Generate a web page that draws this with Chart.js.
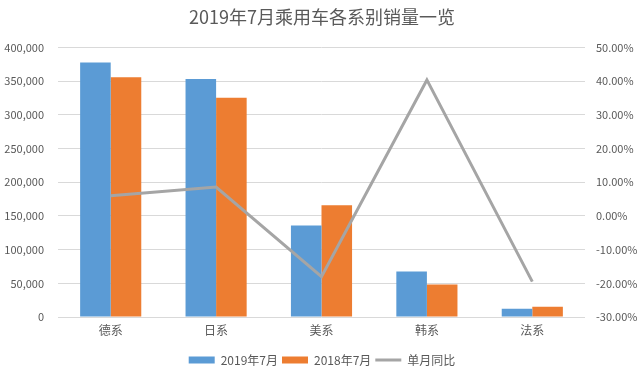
<!DOCTYPE html>
<html>
<head>
<meta charset="utf-8">
<script src="https://cdn.jsdelivr.net/npm/chart.js@4/dist/chart.umd.min.js"></script>
<style>
  html, body { margin: 0; padding: 0; background: #ffffff; }
  #wrap { width: 644px; height: 372px; position: relative; }
</style>
</head>
<body>
<div id="wrap"><canvas id="c"></canvas></div>
<script>
const categories = ['德系', '日系', '美系', '韩系', '法系'];
const sales2019 = [378000, 353500, 136000, 67500, 12300];
const sales2018 = [356000, 325500, 166000, 48300, 15300];
const yoy = [0.060, 0.086, -0.180, 0.404, -0.195];
const leftTicks = [0, 50000, 100000, 150000, 200000, 250000, 300000, 350000, 400000];
const rightTicks = [-0.3, -0.2, -0.1, 0, 0.1, 0.2, 0.3, 0.4, 0.5];
const seriesNames = ['2019年7月', '2018年7月', '单月同比'];
const titleText = '2019年7月乘用车各系别销量一览';

const FONT = '"Noto Sans CJK SC", "Noto Sans", sans-serif';
const TXT = '#595959';

new Chart(document.getElementById('c'), {
  type: 'bar',
  data: {
    labels: categories,
    datasets: [
      { type: 'line', label: seriesNames[2], data: yoy, yAxisID: 'y1',
        borderColor: '#A5A5A5', backgroundColor: '#A5A5A5', borderWidth: 3,
        pointRadius: 0, tension: 0, order: 0 },
      { label: seriesNames[0], data: sales2019, yAxisID: 'y',
        backgroundColor: '#5B9BD5', borderWidth: 0, order: 1,
        categoryPercentage: 0.58, barPercentage: 1 },
      { label: seriesNames[1], data: sales2018, yAxisID: 'y',
        backgroundColor: '#ED7D31', borderWidth: 0, order: 1,
        categoryPercentage: 0.58, barPercentage: 1 }
    ]
  },
  options: {
    responsive: true,
    maintainAspectRatio: false,
    animation: false,
    devicePixelRatio: 1,
    layout: { padding: { left: 0, right: 0, top: 0, bottom: -4 } },
    plugins: {
      title: {
        display: true, text: titleText, color: TXT,
        font: { family: FONT, size: 18, weight: 'normal' },
        padding: { top: 6, bottom: 20 }
      },
      legend: {
        display: true, position: 'bottom',
        labels: {
          color: TXT, font: { family: FONT, size: 12 },
          usePointStyle: true, pointStyleWidth: 26, boxHeight: 7, padding: 4,
          sort: (a, b) => {
            const ord = { '2019年7月': 0, '2018年7月': 1, '单月同比': 2 };
            return ord[a.text] - ord[b.text];
          },
          generateLabels(chart) {
            const items = Chart.defaults.plugins.legend.labels.generateLabels(chart);
            items.forEach(it => {
              if (it.text === seriesNames[2]) {
                it.pointStyle = 'line'; it.lineWidth = 3; it.strokeStyle = '#A5A5A5';
              } else {
                it.pointStyle = 'rect'; it.lineWidth = 0;
              }
            });
            return items;
          }
        }
      },
      tooltip: { enabled: false }
    },
    scales: {
      x: {
        grid: { display: false, drawTicks: false },
        border: { display: false },
        ticks: { color: TXT, font: { family: FONT, size: 12 }, padding: 6 },
        afterFit(s) { s.height = 33; }
      },
      y: {
        position: 'left', min: 0, max: 400000,
        afterBuildTicks(s) { s.ticks = leftTicks.map(v => ({ value: v })); },
        grid: { color: '#D9D9D9', drawTicks: false, lineWidth: 1 },
        border: { display: false },
        ticks: { color: TXT, font: { family: FONT, size: 11 }, padding: 14,
          callback: v => v.toLocaleString('en-US') },
        afterFit(s) { s.width = 58; }
      },
      y1: {
        position: 'right', min: -0.3, max: 0.5,
        afterBuildTicks(s) { s.ticks = rightTicks.map(v => ({ value: v })); },
        grid: { display: false, drawTicks: false },
        border: { display: false },
        ticks: { color: TXT, font: { family: FONT, size: 11 }, padding: 11,
          callback: v => (v * 100).toFixed(2) + '%' },
        afterFit(s) { s.width = 59; }
      }
    }
  }
});
</script>
</body>
</html>
